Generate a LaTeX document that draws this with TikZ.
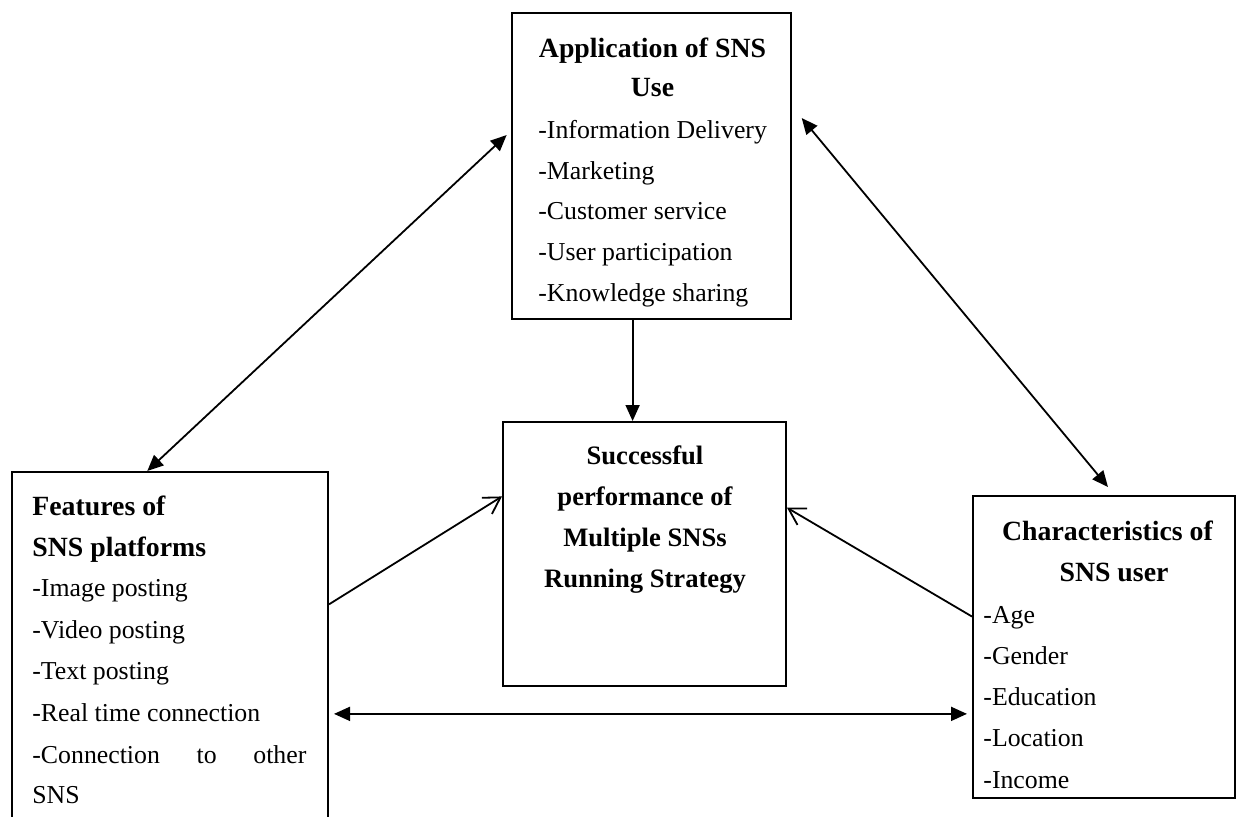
\documentclass[tikz,border=0pt]{standalone}
\usepackage{fontspec}
\setmainfont{Liberation Serif}
\usetikzlibrary{arrows.meta}

\tikzset{
  box/.style={draw, line width=1pt, inner sep=0pt},
  head/.style={anchor=base, inner sep=0pt, font=\fontsize{13.9}{20.5}\selectfont\bfseries},
  item/.style={anchor=base west, inner sep=0pt, font=\fontsize{12.9}{20.5}\selectfont},
  twoway/.style={line width=0.9pt, {Triangle[length=8pt,width=7pt]}-{Triangle[length=8pt,width=7pt]}},
  oneway/.style={line width=0.9pt, -{Triangle[length=8pt,width=7pt]}},
  feeds/.style={line width=0.9pt, -{Straight Barb[length=8pt,width=9.5pt]}},
}

\begin{document}
\begin{tikzpicture}[x=0.5pt, y=-0.5pt]
        \useasboundingbox (0,0) rectangle (1237,816);

        % Draw the four boxes
        \node[box, minimum width=139.5pt, minimum height=153pt] (app) at (651.5,166) {};
        \node[box, minimum width=141.5pt, minimum height=132pt] (perf) at (644.5,554) {};
        \node[box, minimum width=158pt, minimum height=184pt] (feat) at (170,656) {};
        \node[box, minimum width=131pt, minimum height=151pt] (user) at (1104,647) {};

        % Top box: uses of SNS
        \node[head] (app-h1) at (652.5,57.3) {Application of SNS};
        \node[head] (app-h2) at (652.5,96.7) {Use};
        \foreach \t [count=\i] in {Information Delivery, Marketing, Customer service, User participation, Knowledge sharing}
            \node[item] (app-\i) at (538,{138.3+(\i-1)*40.8}) {-\t};

        % Middle box
        \foreach \t [count=\i] in {Successful, performance of, Multiple SNSs, Running Strategy}
            \node[head, font=\fontsize{13.3}{20.5}\selectfont\bfseries] (perf-\i) at (645,{464+(\i-1)*41.2}) {\t};

        % Left box: platform features
        \node[head, anchor=base west] (feat-h1) at (32,515) {Features of};
        \node[head, anchor=base west] (feat-h2) at (32,556.7) {SNS platforms};
        \foreach \t [count=\i] in {Image posting, Video posting, Text posting, Real time connection}
            \node[item] (feat-\i) at (32,{596.7+(\i-1)*41.6}) {-\t};
        \node[item] (feat-5) at (32,763.3) {\makebox[137pt]{-Connection\hfill to\hfill other}};
        \node[item] (feat-6) at (32,803.3) {SNS};

        % Right box: user characteristics
        \node[head] (user-h1) at (1107.5,540) {Characteristics of};
        \node[head] (user-h2) at (1114,581.7) {SNS user};
        \foreach \t [count=\i] in {Age, Gender, Education, Location, Income}
            \node[item] (user-\i) at (983,{623.3+(\i-1)*41.2}) {-\t};

        % Arrows
        \draw[twoway, shorten >=3pt] (feat.97.2) -- (app.166.8);
        \draw[twoway, shorten <=7.6pt, shorten >=5.2pt] (app.23.4) -- (user.86.5);
        \draw[oneway] (app.263.5) -- (app.263.5 |- perf.north);
        \draw[feeds] (feat.18.5) -- (perf.158.1);
        \draw[feeds] (user.167.5) -- (perf.18);
        \draw[twoway, shorten <=2.5pt, shorten >=2.5pt] (feat.340.5) -- (feat.340.5 -| user.west);
    \end{tikzpicture}
\end{document}
